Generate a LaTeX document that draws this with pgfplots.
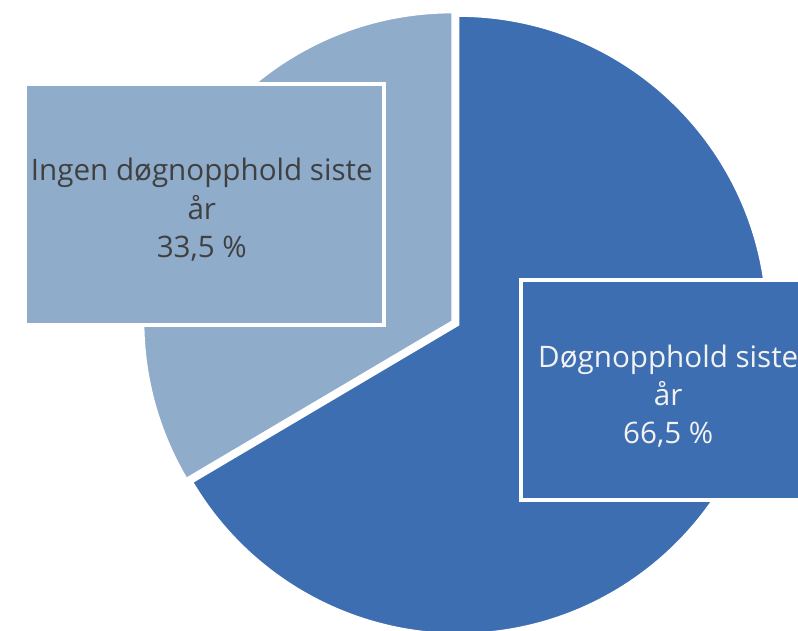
\documentclass[border=0pt]{standalone}
\usepackage{pgfplots}
\pgfplotsset{compat=1.18}
\usepackage{pgfplotstable}
\usepackage{fontspec}
\setmainfont{Open Sans}
\definecolor{darkblue}{RGB}{61,110,178}
\definecolor{lightblue}{RGB}{143,172,203}
\definecolor{txtgray}{RGB}{64,64,64}
\definecolor{txtwhite}{RGB}{242,242,242}
\pgfplotstableread{
slice value
1 66.5
2 33.5
}\piedata
\begin{document}
\pgfplotstablegetelem{0}{value}\of\piedata
\pgfmathsetmacro{\va}{\pgfplotsretval}
\pgfmathsetmacro{\angEnd}{90-3.6*\va}
\pgfmathsetmacro{\angEndB}{\angEnd+360}
\begin{tikzpicture}
\begin{axis}[width=798bp,height=637bp,scale only axis,
  xmin=0,xmax=798,ymin=0,ymax=637,y dir=reverse,hide axis,clip=false]
\coordinate (bl) at (axis cs:0,637);
\coordinate (tr) at (axis cs:798,0);
\fill[darkblue,draw=white,line width=2bp] (axis cs:455,328) -- ++(90:312bp)
   arc[start angle=90,end angle=\angEnd,radius=312bp] -- cycle;
\fill[lightblue,draw=white,line width=2bp] (axis cs:449,324.5) -- ++(90:312bp)
   arc[start angle=90,end angle=\angEndB,radius=312bp] -- cycle;
\draw[fill=lightblue,draw=white,line width=4bp] (axis cs:17,85) rectangle (axis cs:380,328);
\draw[fill=darkblue,draw=white,line width=4bp] (axis cs:518,283) rectangle (axis cs:816,505);
\node[align=center,text=txtgray,font=\fontsize{30}{39}\selectfont] at (axis cs:196,212)
  {Ingen døgnopphold siste\\år\\33,5 \%};
\node[align=center,text=txtwhite,font=\fontsize{30}{39}\selectfont] at (axis cs:667,400)
  {Døgnopphold siste\\år\\66,5 \%};
\end{axis}
\pgfresetboundingbox
\useasboundingbox (bl) rectangle (tr);
\end{tikzpicture}
\end{document}
